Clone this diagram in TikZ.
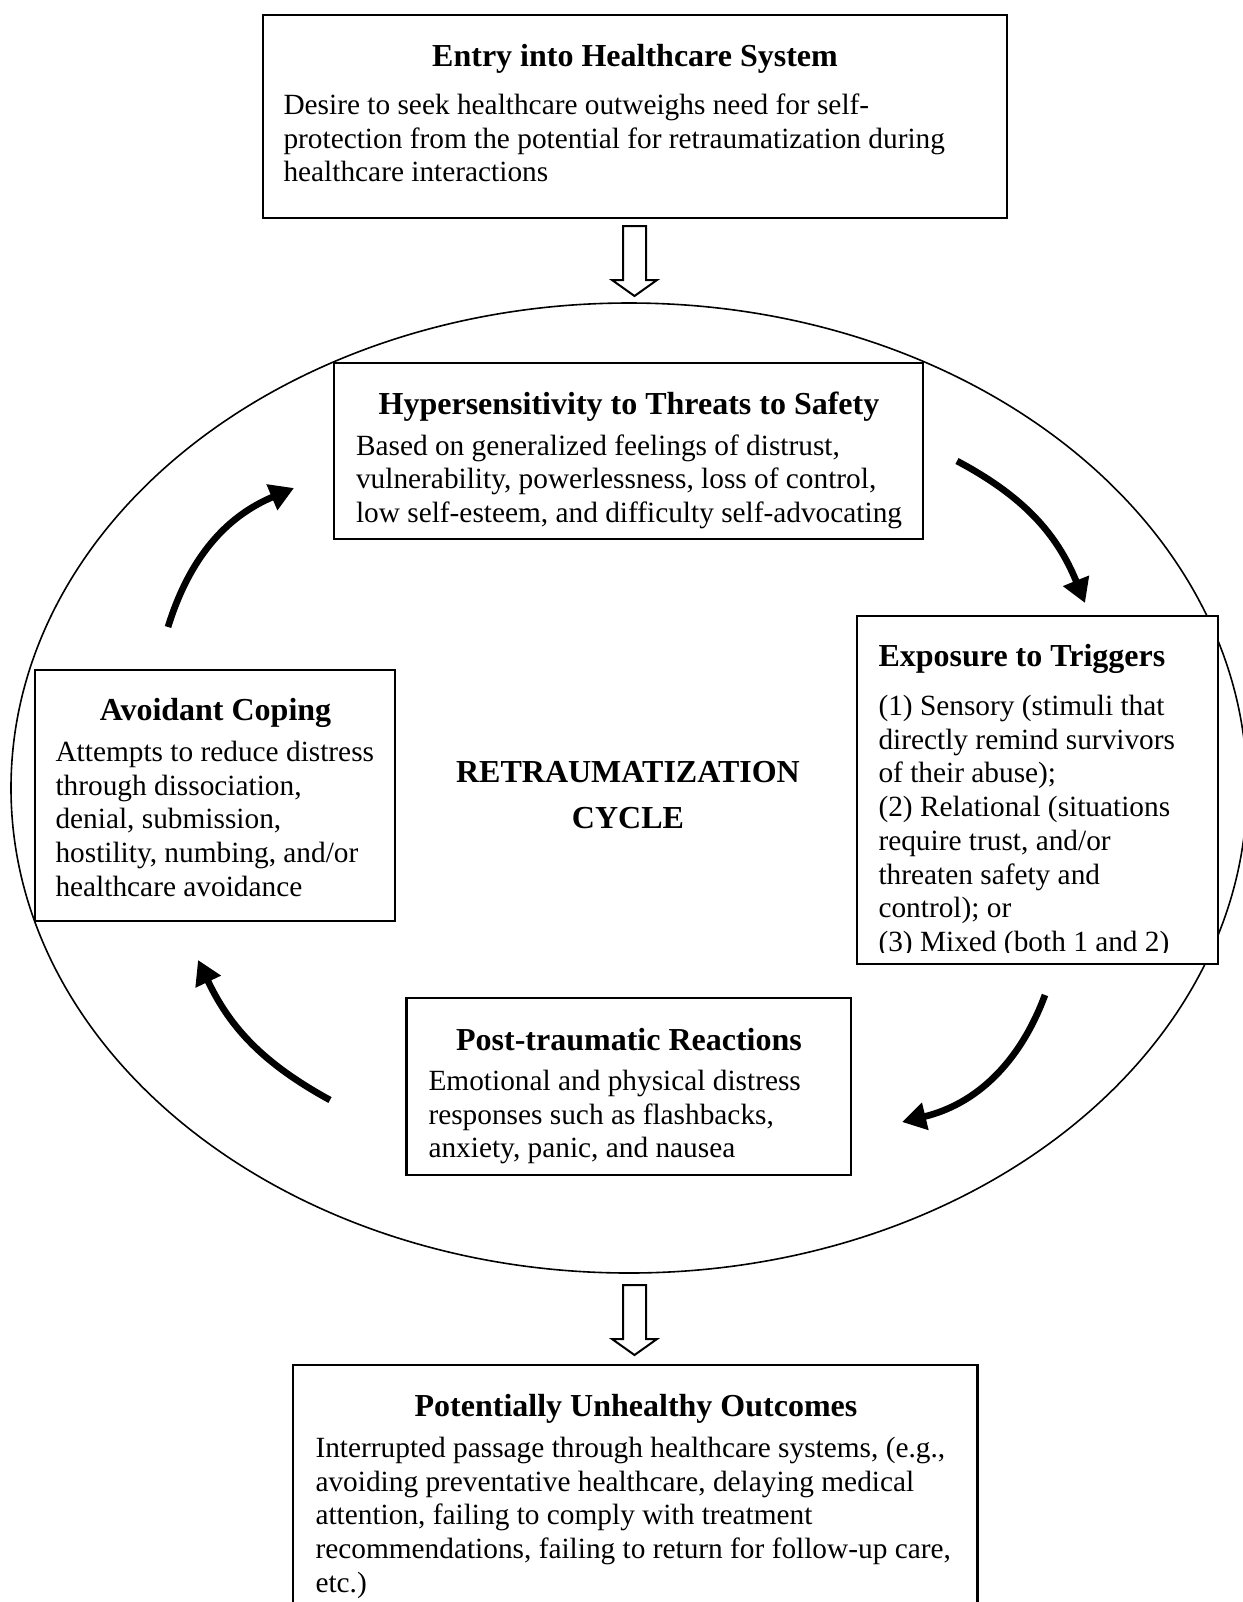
\documentclass[tikz,border=0pt]{standalone}
\usepackage{fontspec}
\setmainfont{Liberation Serif}
\usetikzlibrary{arrows.meta, fit, positioning}

\tikzset{
  panel/.style={draw, fill=white, line width=0.8pt, inner sep=0pt},
  heading/.style={font=\bfseries\fontsize{12pt}{12.65pt}\selectfont, inner sep=0pt, anchor=base},
  bodytext/.style={font=\fontsize{11pt}{12.65pt}\selectfont, align=flush left, text width=340pt, inner sep=0pt, anchor=base west},
  cyclearrow/.style={line width=2.5pt, -{Triangle[length=9pt,width=10pt]}},
  hollow/.style={draw, fill=white, line width=0.75pt, line join=miter}
}

\begin{document}
\begin{tikzpicture}[x=0.375pt, y=-0.375pt]
% page frame (px of the original)
\clip (0,0) rectangle (1243,1602);
\def\midx{634.5}
% the cycle itself
\draw[line width=0.6pt] (629,788) ellipse [x radius=618, y radius=485];
\node[font=\bfseries\fontsize{12pt}{17.6pt}\selectfont, align=center, text width=250pt, inner sep=0pt, anchor=base] (cyc) at (628,782) {RETRAUMATIZATION\\CYCLE};
% entry box
\node[panel, fit={(263,15) (1007,218)}] (entry) {};
\node[heading] (entrytitle) at (635,66) {Entry into Healthcare System};
\node[bodytext] (entrytext) at (283,114.5) {Desire to seek healthcare outweighs need for self-\\protection from the potential for retraumatization during\\healthcare interactions};
% hypersensitivity
\node[panel, fit={(334,363) (923,539)}] (hyper) {};
\node[heading] (hypertitle) at (629,414) {Hypersensitivity to Threats to Safety};
\node[bodytext] (hypertext) at (355.5,455) {Based on generalized feelings of distrust,\\vulnerability, powerlessness, loss of control,\\low self-esteem, and difficulty self-advocating};
% triggers (last line cut by the frame)
\node[panel, fit={(857,616) (1218,964)}] (trig) {};
\node[heading, anchor=base west] (trigtitle) at (878,666) {Exposure to Triggers};
\begin{scope}
  \clip (857,616) rectangle (1218,952);
  \node[bodytext] (trigtext) at (878,715.5) {(1) Sensory (stimuli that\\directly remind survivors\\of their abuse);\\(2) Relational (situations\\require trust, and/or\\threaten safety and\\control); or\\(3) Mixed (both 1 and 2)};
\end{scope}
% post-traumatic reactions
\node[panel, fit={(406.5,998) (851,1175)}] (post) {};
\node[heading] (posttitle) at (629,1050) {Post-traumatic Reactions};
\node[bodytext] (posttext) at (428,1090.5) {Emotional and physical distress\\responses such as flashbacks,\\anxiety, panic, and nausea};
% avoidant coping
\node[panel, fit={(35,670) (395,921)}] (avoid) {};
\node[heading] (avoidtitle) at (215.5,720) {Avoidant Coping};
\node[bodytext] (avoidtext) at (55,761.5) {Attempts to reduce distress\\through dissociation,\\denial, submission,\\hostility, numbing, and/or\\healthcare avoidance};
% outcomes (runs off the page)
\node[panel, fit={(293,1365) (977.5,1640)}] (outcome) {};
\node[heading] (outcometitle) at (636,1416) {Potentially Unhealthy Outcomes};
\node[bodytext] (outcometext) at (315,1457.5) {Interrupted passage through healthcare systems, (e.g.,\\avoiding preventative healthcare, delaying medical\\attention, failing to comply with treatment\\recommendations, failing to return for follow-up care,\\etc.)};
% hollow arrows in and out
\foreach \t in {226,1285} {
  \draw[hollow] (\midx-11.5,\t) -- (\midx+11.5,\t) -- (\midx+11.5,\t+54) -- (\midx+22.5,\t+54)
    -- (\midx,\t+70) -- (\midx-22.5,\t+54) -- (\midx-11.5,\t+54) -- cycle;
}
% arrows round the cycle
\coordinate (hyperout) at (957,461);  \coordinate (trigin) at (1085,603);
\coordinate (trigout) at (1045,995);  \coordinate (postin) at (902,1122);
\coordinate (postout) at (330,1100);  \coordinate (avoidin) at (198,960);
\coordinate (avoidout) at (168,627);  \coordinate (hyperin) at (294,488);
\foreach \s/\e/\b in {hyperout/trigin/20, trigout/postin/28, postout/avoidin/18, avoidout/hyperin/25} {
  \draw[cyclearrow] (\s) to[bend left=\b] (\e);
}
\end{tikzpicture}
\end{document}
